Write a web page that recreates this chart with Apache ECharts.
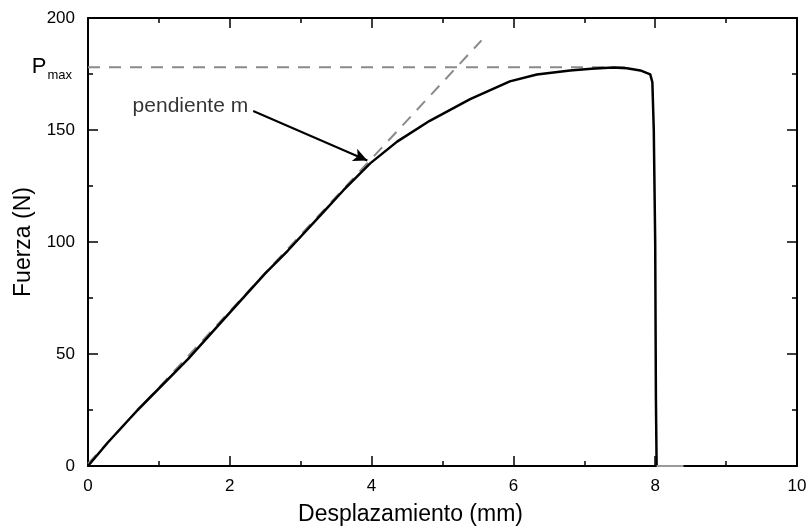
<!DOCTYPE html>
<html>
<head>
<meta charset="utf-8">
<script src="https://cdn.jsdelivr.net/npm/echarts@6/dist/echarts.min.js"></script>
<style>
  html, body { margin: 0; padding: 0; background: #fff; }
  #chart { width: 810px; height: 531px; }
</style>
</head>
<body>
<div id="chart"></div>
<script>
// curva fuerza-desplazamiento (mm, N)
var curva = [
  [0, 0], [0.28, 10.5], [0.7, 25], [1.41, 47.7], [2.0, 68.5], [2.5, 86],
  [2.82, 96.2], [3.31, 113], [3.6, 123], [3.98, 135.1], [4.36, 144.8],
  [4.82, 154.1], [5.39, 163.8], [5.95, 171.7], [6.33, 174.8], [6.8, 176.6],
  [7.1, 177.3], [7.4, 177.9], [7.6, 177.6], [7.79, 176.6], [7.93, 174.8],
  [7.96, 171.3], [7.98, 150], [8.0, 100], [8.01, 30], [8.02, 0]
];
// tramo final en cero tras la rotura
var colaRotura = [[8.02, 0], [8.4, 0]];
// recta de pendiente m y nivel de Pmax
var pendiente = [[0, 1], [5.55, 190]];
var pmax = 178;
var lineaPmax = [[0, pmax], [7.6, pmax]];
var marcaPmax = [[-0.11, pmax], [0, pmax]];
// flecha de la anotacion
var flechaIni = [2.33, 158.5];
var flechaFin = [3.94, 136.4];
var etiqueta = 'pendiente m';

var FONT = 'Liberation Sans, Arial, sans-serif';
var myChart = echarts.init(document.getElementById('chart'));

function ejes(extra) {
    return Object.assign({
        type: 'value',
        axisLine: { show: true, onZero: false, lineStyle: { color: '#000', width: 2 } },
        axisTick: { show: true, inside: true, length: 10, lineStyle: { color: '#000', width: 1.5 } },
        minorTick: { show: true, splitNumber: 2, length: 5, lineStyle: { color: '#000', width: 1.5 } },
        splitLine: { show: false }
    }, extra);
}

var option = {
    animation: false,
    grid: { left: 88, right: 13, top: 18, bottom: 60 },
    xAxis: [
        ejes({
            min: 0, max: 10, interval: 2, position: 'bottom',
            name: 'Desplazamiento (mm)', nameLocation: 'middle', nameGap: 37,
            nameTextStyle: { fontFamily: FONT, fontSize: 23, color: '#000', padding: [0, 64, 0, 0] },
            axisLabel: { fontFamily: FONT, fontSize: 17, color: '#000', margin: 12 }
        }),
        ejes({ min: 0, max: 10, interval: 2, position: 'top', axisLabel: { show: false } })
    ],
    yAxis: [
        ejes({
            min: 0, max: 200, interval: 50, position: 'left',
            name: 'Fuerza (N)', nameLocation: 'middle', nameGap: 53,
            nameTextStyle: { fontFamily: FONT, fontSize: 23, color: '#000' },
            axisLabel: { fontFamily: FONT, fontSize: 17, color: '#000', margin: 13 }
        }),
        ejes({ min: 0, max: 200, interval: 50, position: 'right', axisLabel: { show: false } }),
        {
            type: 'value', min: 0, max: 200, position: 'left',
            axisLine: { show: false }, splitLine: { show: false }, axisTick: { show: false },
            axisLabel: {
                show: true, customValues: [pmax], margin: 16,
                formatter: function () { return '{p|P}{s|max}'; },
                rich: {
                    p: { fontFamily: FONT, fontSize: 22, color: '#000' },
                    s: { fontFamily: FONT, fontSize: 13, color: '#000', padding: [16, 0, 0, 1] }
                }
            }
        }
    ],
    series: [
        {
            type: 'line', data: lineaPmax, showSymbol: false, silent: true, clip: false,
            lineStyle: { color: '#8a8a8a', width: 2, type: [12, 9] },
            markLine: {
                silent: true, symbol: ['none', 'none'],
                lineStyle: { color: '#000', width: 1.5, type: 'solid' },
                label: { show: false },
                data: [[{ coord: marcaPmax[0] }, { coord: marcaPmax[1] }]]
            }
        },
        {
            type: 'line', data: pendiente, showSymbol: false, silent: true,
            lineStyle: { color: '#8a8a8a', width: 2, type: [12, 9] }
        },
        {
            type: 'line', data: curva, showSymbol: false, silent: true,
            lineStyle: { color: '#000', width: 2.5 },
            markLine: {
                silent: true, symbol: ['none', 'arrow'], symbolSize: [10, 14],
                lineStyle: { color: '#000', width: 2, type: 'solid' },
                label: { show: false },
                data: [[{ coord: flechaIni }, { coord: flechaFin }]]
            }
        },
        {
            type: 'line', data: colaRotura, showSymbol: false, silent: true, z: 5,
            lineStyle: { color: '#9a9a9a', width: 2 }
        },
        {
            type: 'scatter', data: [flechaIni], symbolSize: 0, silent: true,
            label: {
                show: true, position: 'left', distance: 5, offset: [0, -5],
                formatter: etiqueta, fontFamily: FONT, fontSize: 21, color: '#000'
            }
        }
    ]
};

myChart.setOption(option);
</script>
</body>
</html>
